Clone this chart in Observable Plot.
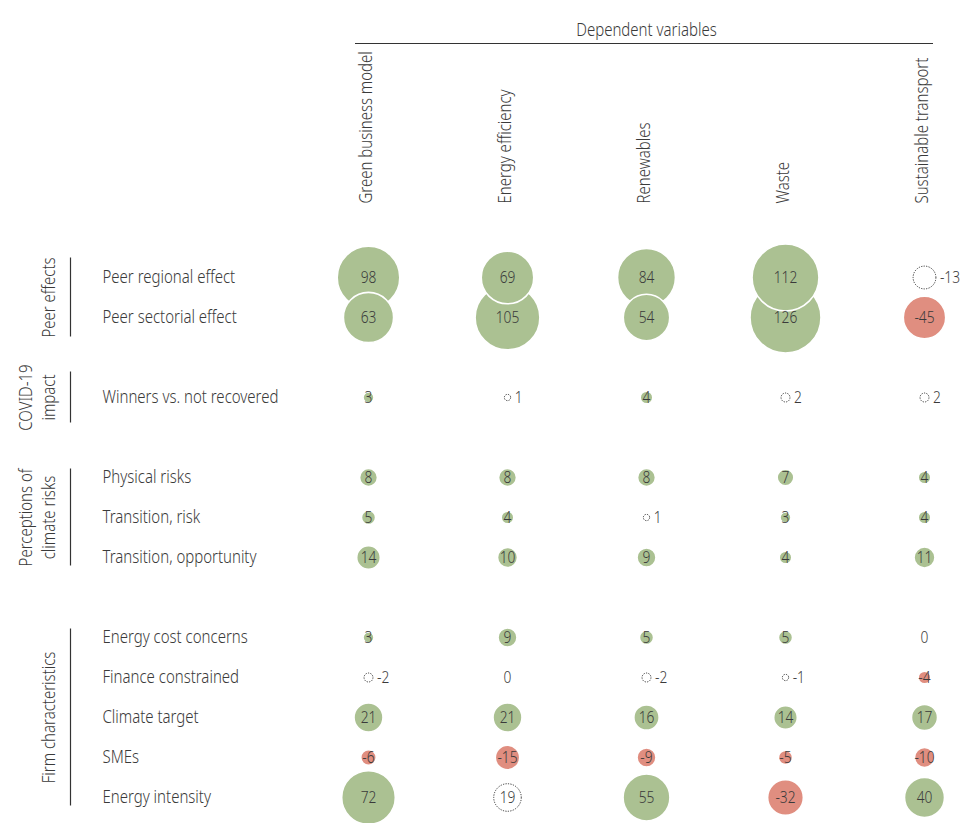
<!DOCTYPE html>
<html>
<head>
<meta charset="utf-8">
<script src="https://cdn.jsdelivr.net/npm/d3@7"></script>
<script src="https://cdn.jsdelivr.net/npm/@observablehq/plot@0.6"></script>
<style>
  html, body { margin: 0; padding: 0; background: #ffffff; }
  #chart svg { display: block; }
</style>
</head>
<body>
<div id="chart"></div>
<script>
// ---------------- Data ----------------
const headerTitle = "Dependent variables";
const columns = ["Green business model", "Energy efficiency", "Renewables", "Waste", "Sustainable transport"];

const groupNames = ["Peer effects", "COVID-19\nimpact", "Perceptions of\nclimate risks", "Firm characteristics"];
const groupRows = [
  ["Peer regional effect", "Peer sectorial effect"],
  ["Winners vs. not recovered"],
  ["Physical risks", "Transition, risk", "Transition, opportunity"],
  ["Energy cost concerns", "Finance constrained", "Climate target", "SMEs", "Energy intensity"]
];

// values per dependent variable, in row order
const greenBusinessModel   = [98, 63, 3, 8, 5, 14, 3, -2, 21, -6, 72];
const energyEfficiency     = [69, 105, 1, 8, 4, 10, 9, 0, 21, -15, 19];
const renewables           = [84, 54, 4, 8, 1, 9, 5, -2, 16, -9, 55];
const waste                = [112, 126, 2, 7, 3, 4, 5, -1, 14, -5, -32];
const sustainableTransport = [-13, -45, 2, 4, 4, 11, 0, -4, 17, -10, 40];

// statistically significant (filled) = 1, not significant (dotted outline) = 0
const greenBusinessModelSig   = [1, 1, 1, 1, 1, 1, 1, 0, 1, 1, 1];
const energyEfficiencySig     = [1, 1, 0, 1, 1, 1, 1, 0, 1, 1, 0];
const renewablesSig           = [1, 1, 1, 1, 0, 1, 1, 0, 1, 1, 1];
const wasteSig                = [1, 1, 0, 1, 1, 1, 1, 0, 1, 1, 1];
const sustainableTransportSig = [0, 1, 0, 1, 1, 1, 1, 1, 1, 1, 1];

// ---------------- Styles ----------------
const GREEN = "#abc192";
const RED = "#e08e80";
const TEXT = "#3a3a3a";
const FONT = "'Noto Sans', 'Open Sans', Roboto, sans-serif";
const LABEL_SIZE = 18.5;
const VALUE_SIZE = 17;
const CONDENSE = 0.81; // horizontal squeeze to mimic a condensed typeface

// ---------------- Build tables ----------------
const seriesValues = [greenBusinessModel, energyEfficiency, renewables, waste, sustainableTransport];
const seriesSig = [greenBusinessModelSig, energyEfficiencySig, renewablesSig, wasteSig, sustainableTransportSig];

const rows = [];
const groups = [];
let idx = 0;
groupRows.forEach((labels, g) => {
  const first = idx;
  labels.forEach(label => { rows.push({label, idx, group: g}); idx++; });
  const last = idx - 1;
  groups.push({name: groupNames[g], first, last, mid: (first + last) / 2});
  idx++; // blank spacer row between groups
});
const lastIdx = rows[rows.length - 1].idx;

const cells = [];
columns.forEach((col, c) => {
  rows.forEach((row, r) => {
    cells.push({col, idx: row.idx, v: seriesValues[c][r], sig: seriesSig[c][r] === 1});
  });
});

const rOpts = {type: "sqrt", domain: [0, 126], range: [0, 35.5]};
const rScale = Plot.scale({r: rOpts});

const filled = cells.filter(d => d.sig && d.v !== 0);
const dotted = cells.filter(d => !d.sig && d.v !== 0);
const isOutside = d => !d.sig && d.v !== 0 && Math.abs(d.v) < 15;
const insideLabels = cells.filter(d => !isOutside(d));
const outsideLabels = cells.filter(isOutside);

// group bar lengths: cover the rows and the rotated group label
const yTop = 277, yBottom = 797;
const step = (yBottom - yTop) / lastIdx;
const barHalfMin = [39.5, 25.5, 0, 0];
groups.forEach((g, i) => {
  const spanPx = (g.last - g.first) * step;
  const half = Math.max(spanPx / 2 + 8.5, barHalfMin[i]);
  g.y1 = g.mid - half / step;
  g.y2 = g.mid + half / step;
});

// ---------------- Plot ----------------
const chart = Plot.plot({
  width: 960,
  height: 823,
  margin: 0,
  style: {fontFamily: FONT, color: TEXT, background: "#ffffff", fontWeight: 300},
  x: {type: "point", domain: columns, range: [368, 924], padding: 0, axis: null},
  y: {type: "linear", domain: [0, lastIdx], range: [yTop, yBottom], axis: null},
  r: rOpts,
  color: {type: "identity"},
  marks: [
    // header
    Plot.text([headerTitle], {x: () => columns[2], frameAnchor: "top", dy: 22, text: d => d,
      fontSize: LABEL_SIZE, fill: TEXT}),
    Plot.ruleY([0], {x1: () => columns[0], x2: () => columns[columns.length - 1], dy: 43 - yTop,
      insetLeft: -13, insetRight: -9, stroke: "#333", strokeWidth: 1}),
    Plot.text(columns, {x: d => d, frameAnchor: "top", dx: -10, dy: 203, text: d => d, rotate: -90,
      textAnchor: "start", fontSize: LABEL_SIZE, fill: TEXT}),
    // group bars and labels
    Plot.ruleX(groups, {x: () => columns[0], dx: 70 - 368, y1: "y1", y2: "y2", stroke: "#333", strokeWidth: 1.2}),
    Plot.text(groups, {y: "mid", frameAnchor: "left", dx: 54, text: "name", rotate: -90,
      textAnchor: "middle", lineAnchor: "bottom", lineHeight: 1.2, fontSize: LABEL_SIZE, fill: TEXT}),
    // row labels
    Plot.text(rows, {y: "idx", frameAnchor: "left", dx: 102, text: "label", textAnchor: "start",
      fontSize: LABEL_SIZE, fill: TEXT}),
    // bubbles
    Plot.dot(filled, {x: "col", y: "idx", r: d => Math.abs(d.v), fill: d => d.v > 0 ? GREEN : RED,
      stroke: "#ffffff", strokeWidth: 1.6}),
    Plot.dot(dotted, {x: "col", y: "idx", r: d => Math.abs(d.v), fill: "#ffffff",
      stroke: "#333", strokeWidth: 1, strokeDasharray: "1.2,1.3"}),
    // value labels
    Plot.text(insideLabels, {x: "col", y: "idx", text: d => String(d.v), fontSize: VALUE_SIZE, fill: TEXT}),
    ...outsideLabels.map(d => Plot.text([d], {x: "col", y: "idx", text: e => String(e.v),
      dx: rScale.apply(Math.abs(d.v)) + 4, textAnchor: "start", fontSize: VALUE_SIZE, fill: TEXT}))
  ]
});

// squeeze every text horizontally around its own anchor (condensed look)
chart.querySelectorAll("text").forEach(t => {
  const x = +t.getAttribute("x") || 0;
  const y = +t.getAttribute("y") || 0;
  const tr = t.getAttribute("transform") || "";
  t.setAttribute("transform", `${tr} translate(${x},${y}) scale(${CONDENSE},1) translate(${-x},${-y})`.trim());
});

document.getElementById("chart").appendChild(chart);
</script>
</body>
</html>
